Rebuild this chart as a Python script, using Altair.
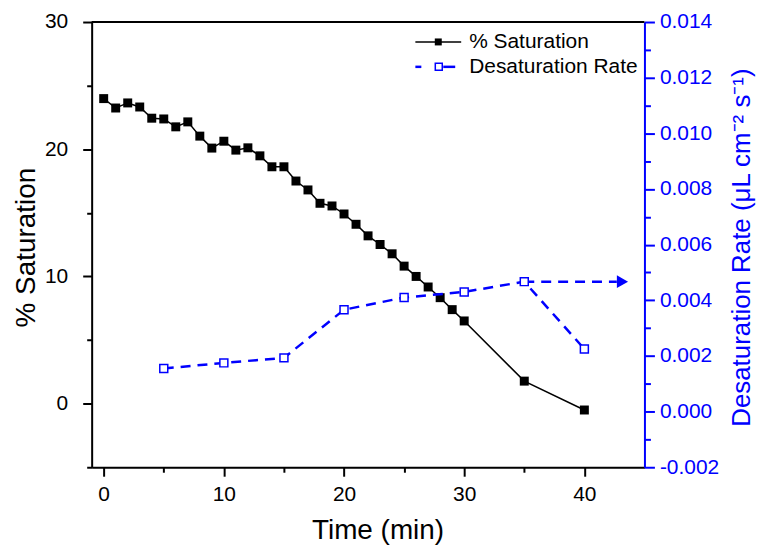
import altair as alt
import pandas as pd

# ---- data ----
time_sat = list(range(0, 31)) + [35, 40]
saturation = [23.98, 23.24, 23.64, 23.32, 22.44, 22.38, 21.76, 22.15, 21.03, 20.09,
              20.63, 19.93, 20.11, 19.48, 18.62, 18.62, 17.50, 16.80, 15.75, 15.54,
              14.91, 14.10, 13.19, 12.51, 11.78, 10.81, 10.00, 9.17, 8.33, 7.39,
              6.50, 1.77, -0.50]

time_rate = [5, 10, 15, 20, 25, 30, 35, 40]
desat_rate = [0.00155, 0.00175, 0.00193, 0.00366, 0.00410, 0.00430, 0.00467, 0.00225]

arrow_x_start = [35]
arrow_x_end = [42.7]
arrow_head_x = [43.17]
arrow_y = [0.00467]

legend_labels = ["% Saturation", "Desaturation Rate"]

x_ticks = [0, 5, 10, 15, 20, 25, 30, 35, 40]
left_ticks = [-5, 0, 5, 10, 15, 20, 25, 30]
right_ticks = [i / 1000 for i in range(-2, 15)]

FONT = "Liberation Sans"
BLUE = "#0000ff"

df_sat = pd.DataFrame({"t": time_sat, "s": saturation})
df_rate = pd.DataFrame({"t": time_rate, "r": desat_rate})
df_arrow = pd.DataFrame({"x0": arrow_x_start, "x1": arrow_x_end, "xh": arrow_head_x, "y": arrow_y})
one = pd.DataFrame({"a": [0]})

W, H = 555, 447

x_axis = alt.Axis(
    values=x_ticks,
    labelExpr="datum.value % 10 === 0 ? datum.label : ''",
    tickSize={"condition": {"test": "datum.value % 10 === 0", "value": 9}, "value": 5},
    grid=False, domainColor="black", domainWidth=2, tickColor="black", tickWidth=2,
    labelFontSize=21, labelColor="black", labelPadding=7, labelFont=FONT,
    title="Time (min)", titleFontSize=28, titleFontWeight="normal", titleColor="black",
    titleFont=FONT, titleX=287, titleY=64, titleBaseline="middle",
)
X = lambda f: alt.X(f, type="quantitative", scale=alt.Scale(domain=[-1, 45], nice=False, zero=False), axis=x_axis)

left_axis = alt.Axis(
    orient="left", values=left_ticks,
    labelExpr="datum.value % 10 === 0 ? datum.label : ''",
    tickSize={"condition": {"test": "datum.value % 10 === 0", "value": 9}, "value": 5},
    grid=False, domainColor="black", domainWidth=2, tickColor="black", tickWidth=2,
    labelFontSize=21, labelColor="black", labelPadding=15, labelFont=FONT,
    title="% Saturation", titleFontSize=28, titleFontWeight="normal", titleColor="black",
    titleFont=FONT, titleAngle=270, titleX=-65, titleY=226, titleBaseline="middle", titleAlign="center",
)
YL = alt.Y("s:Q", scale=alt.Scale(domain=[-5, 30], nice=False, zero=False), axis=left_axis)

right_axis = alt.Axis(
    orient="right", values=right_ticks,
    labelExpr="round(datum.value*1000) % 2 === 0 ? replace(format(datum.value, '.3f'), '\u2212', '-') : ''",
    tickSize={"condition": {"test": "round(datum.value*1000) % 2 === 0", "value": 10}, "value": 6},
    grid=False, domainColor=BLUE, domainWidth=2, tickColor=BLUE, tickWidth=2,
    labelFontSize=21, labelColor=BLUE, labelPadding=5, labelFont=FONT,
    title="Desaturation Rate (\u03bcL cm\u207b\u00b2 s\u207b\u00b9)", titleFontSize=26,
    titleFontWeight="normal", titleColor=BLUE, titleFont=FONT,
    titleAngle=270, titleX=97, titleY=226, titleBaseline="middle", titleAlign="center",
)
YR = lambda f: alt.Y(f, type="quantitative", scale=alt.Scale(domain=[-0.002, 0.014], nice=False, zero=False), axis=right_axis)

# left series
sat_line = alt.Chart(df_sat).mark_line(color="black", strokeWidth=1.5).encode(x=X("t"), y=YL)
sat_pts = alt.Chart(df_sat).mark_square(size=81, color="black", opacity=1).encode(x=X("t"), y=YL)
left = alt.layer(sat_line, sat_pts)

# right series
rate_line = alt.Chart(df_rate).mark_line(color=BLUE, strokeWidth=2.5, strokeDash=[10, 7]).encode(x=X("t"), y=YR("r"))
rate_pts = alt.Chart(df_rate).mark_point(shape="square", size=64, fill="white", stroke=BLUE,
                                          strokeWidth=1.5, opacity=1, filled=False, fillOpacity=1).encode(x=X("t"), y=YR("r"))
arrow_line = alt.Chart(df_arrow).mark_rule(color=BLUE, strokeWidth=2.5, strokeDash=[10, 7]).encode(
    x=X("x0"), x2="x1", y=YR("y"))
arrow_head = alt.Chart(df_arrow).mark_point(shape="triangle-right", size=169, filled=True,
                                            color=BLUE, opacity=1).encode(x=X("xh"), y=YR("y"))
right = alt.layer(rate_line, arrow_line, arrow_head, rate_pts)

# frame top
top_line = alt.Chart(one).mark_rule(color="black", strokeWidth=2).encode(
    x=alt.value(0), x2=alt.value(W), y=alt.value(0))

# legend
lg = []
lg.append(alt.Chart(one).mark_rule(color="black", strokeWidth=1.5).encode(
    x=alt.value(325), x2=alt.value(371), y=alt.value(20)))
lg.append(alt.Chart(one).mark_square(size=49, color="black", opacity=1).encode(
    x=alt.value(348), y=alt.value(20)))
lg.append(alt.Chart(one).mark_rule(color=BLUE, strokeWidth=2.5).encode(
    x=alt.value(325), x2=alt.value(331), y=alt.value(45)))
lg.append(alt.Chart(one).mark_rule(color=BLUE, strokeWidth=2.5).encode(
    x=alt.value(353), x2=alt.value(365), y=alt.value(45)))
lg.append(alt.Chart(one).mark_point(shape="square", size=49, fill="white", stroke=BLUE,
                                    strokeWidth=1.5, opacity=1, fillOpacity=1).encode(
    x=alt.value(348.5), y=alt.value(45)))
for i, lab in enumerate(legend_labels):
    lg.append(alt.Chart(one).mark_text(text=lab, fontSize=21, font=FONT, align="left",
                                       baseline="middle", color="black").encode(
        x=alt.value(379), y=alt.value(20 + 25 * i)))

chart = alt.layer(left, right, top_line, *lg).resolve_scale(y="independent").properties(
    width=W, height=H,
    padding={"left": 84, "top": 13, "right": 113, "bottom": 79},
    autosize=alt.AutoSizeParams(type="none"),
).configure_view(stroke=None).configure(font=FONT)

chart.save("out.html", embed_options={"renderer": "svg", "actions": False})
